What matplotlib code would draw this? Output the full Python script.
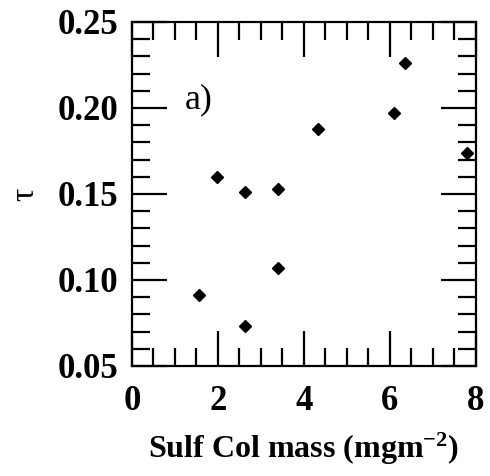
import numpy as np
import matplotlib
matplotlib.use('Agg')
from matplotlib import pyplot as plt
from matplotlib.ticker import MultipleLocator

# sulfate column mass (mg m-2) vs tau
sulf_mass = [1.56, 2.63, 3.40, 1.98, 2.63, 3.40, 4.33, 6.09, 6.35, 7.79]
tau = [0.091, 0.073, 0.107, 0.160, 0.151, 0.153, 0.188, 0.197, 0.226, 0.174]

xticks = [0, 2, 4, 6, 8]
yticks = [0.05, 0.10, 0.15, 0.20, 0.25]
ytick_labels = ['0.05', '0.10', '0.15', '0.20', '0.25']

plt.rcParams['font.family'] = ['Liberation Serif', 'DejaVu Serif']
plt.rcParams['mathtext.default'] = 'regular'

fig = plt.figure(figsize=(4.9, 4.76), dpi=100)
ax = fig.add_axes([0.2694, 0.2311, 0.7016, 0.7227])

ax.plot(sulf_mass, tau, linestyle='none', marker='D', markersize=6.5,
        color='black', clip_on=False)

ax.set_xlim(0, 8)
ax.set_ylim(0.05, 0.25)
ax.set_xticks(xticks)
ax.set_yticks(yticks)
ax.set_yticklabels(ytick_labels)
ax.xaxis.set_minor_locator(MultipleLocator(0.5))
ax.yaxis.set_minor_locator(MultipleLocator(0.01))

for s in ax.spines.values():
    s.set_linewidth(1.6)

ax.tick_params(which='both', direction='in', top=True, right=True, width=1.6)
ax.tick_params(which='major', length=25)
ax.tick_params(which='minor', length=13)
ax.tick_params(axis='y', which='major', pad=10)
ax.tick_params(axis='x', which='major', pad=14)

for lab in ax.get_xticklabels() + ax.get_yticklabels():
    lab.set_fontsize(25)
    lab.set_fontweight('bold')

ax.set_xlabel('Sulf Col mass (mgm$^{-2}$)', fontsize=23, fontweight='bold', labelpad=9)
ax.set_ylabel('τ', fontsize=24, labelpad=12)
ax.text(1.22, 0.205, 'a)', fontsize=26, va='center', ha='left')

fig.savefig('out.png', dpi=100)
